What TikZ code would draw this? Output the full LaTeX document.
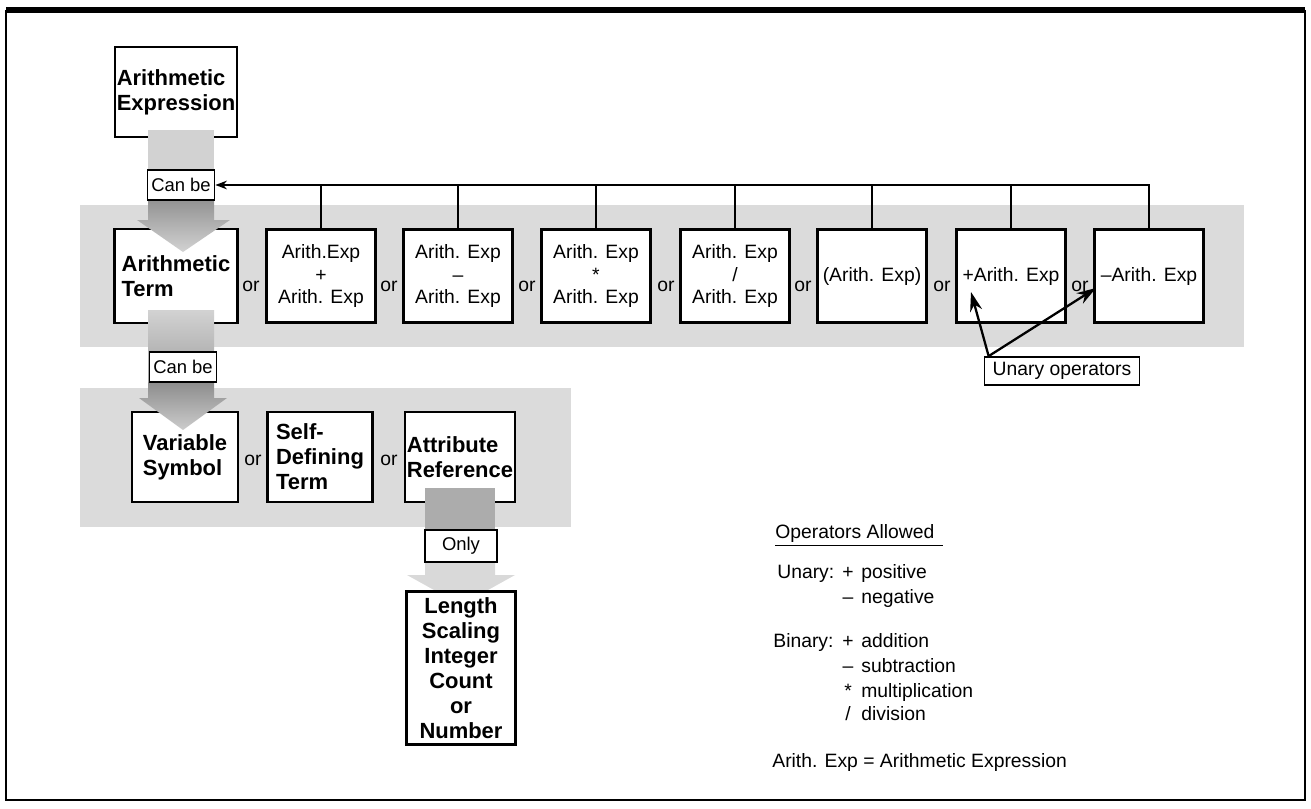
\documentclass[tikz,border=0pt]{standalone}
\usepackage{fontspec}
\setmainfont{Liberation Sans}
\usetikzlibrary{arrows.meta}

\begin{document}
\begin{tikzpicture}[x=0.02cm,y=-0.02cm,>=Stealth,
  every node/.style={font=\fontsize{11}{13}\selectfont},
  band/.style={fill=black!14},
  box/.style={draw,line width=1.3pt,fill=white,inner sep=1pt,minimum width=2.18cm,minimum height=1.86cm,align=center},
  bigbox/.style={box,font=\bfseries\fontsize{12.5}{14.2}\selectfont,align=left},
  tag/.style={draw,line width=1pt,fill=white,inner sep=1pt,minimum width=1.34cm,minimum height=0.6cm,font=\fontsize{10.5}{12}\selectfont},
  orw/.style={inner sep=0pt},
  legend/.style={anchor=base west,inner sep=0pt}]
\useasboundingbox (0,0) rectangle (1311,808);
\draw[line width=1.5pt] (6,11) rectangle (1305,800);
\draw[line width=3pt] (6,10) -- (1305,10);
\fill[band] (80,205) rectangle (1244,347);
\fill[band] (80,388) rectangle (571,527);

% top
\node[bigbox,minimum width=2.44cm,minimum height=1.8cm] (expr) at (176,92) {Arithmetic\\Expression};
\node[bigbox,minimum width=2.46cm,minimum height=1.88cm] (term) at (176,276) {Arithmetic\\Term};
\node[box] (add) at (321,276) {Arith.Exp\\+\\Arith. Exp};
\node[box] (sub) at (458,276) {Arith. Exp\\--\\Arith. Exp};
\node[box] (mul) at (596,276) {Arith. Exp\\*\\Arith. Exp};
\node[box] (dvd) at (735,276) {Arith. Exp\\/\\Arith. Exp};
\node[box] (par) at (872,276) {(Arith. Exp)};
\node[box] (pos) at (1011,276) {+Arith. Exp};
\node[box] (neg) at (1149,276) {--Arith. Exp};
\foreach \x [count=\i] in {251,389,527,666,803,942,1080}
  \node[orw] (ora\i) at (\x,286) {or};

% second row
\node[bigbox,minimum width=2.12cm,minimum height=1.8cm] (var) at (185,457) {Variable\\Symbol};
\node[bigbox,minimum width=2.1cm,minimum height=1.8cm] (self) at (320,457) {Self-\\Defining\\Term};
\node[bigbox,minimum width=2.2cm,minimum height=1.8cm] (attr) at (460,457) {Attribute\\Reference};
\node[orw] (orb1) at (253,460) {or};
\node[orw] (orb2) at (389,460) {or};

% fat arrows
\fill[gray!35] (148,130) rectangle (214,200);
\shade[top color=gray!85,bottom color=gray!35] (148,200) -- (214,200) -- (214,220) -- (230,220) -- (183,252) -- (137,220) -- (148,220) -- cycle;
\shade[top color=gray!35,bottom color=gray!75] (148,310) rectangle (214,382);
\shade[top color=gray!90,bottom color=gray!40] (148,382) -- (214,382) -- (214,398) -- (227,398) -- (183,430) -- (139,398) -- (148,398) -- cycle;
\fill[gray!65] (425,488) rectangle (495,562);
\fill[gray!30] (425,562) -- (495,562) -- (495,575) -- (515,575) -- (461,605) -- (407,575) -- (425,575) -- cycle;

\node[bigbox,align=center,minimum width=2.18cm,minimum height=3.06cm] (len) at (461,668) {Length\\Scaling\\Integer\\Count\\or\\Number};
\node[tag] (canbe1) at (181,185) {Can be};
\node[tag] (canbe2) at (183,367) {Can be};
\node[tag,minimum width=1.44cm,minimum height=0.64cm] (only) at (461,546) {Only};

% connectors
\draw[->,line width=0.8pt] (neg.north) |- (canbe1.east);
\foreach \b in {add,sub,mul,dvd,par,pos}
  \draw[line width=0.8pt] (\b.north) -- (\b.north |- canbe1.east);

\node[tag,minimum width=3.1cm,minimum height=0.56cm,font=\fontsize{11}{13}\selectfont] (unary) at (1062,371) {Unary operators};
\coordinate (ufrom) at ([xshift=0.1cm]unary.north west);
\coordinate (uplus) at (971,292);
\coordinate (uminus) at (1096,288);
\draw[-{Stealth[length=11pt,width=7pt]},line width=1.3pt] (ufrom) -- (uplus);
\draw[-{Stealth[length=11pt,width=7pt]},line width=1.3pt] (ufrom) -- (uminus);

% legend
\node[legend] (ophead) at (775,538) {Operators Allowed};
\draw[line width=0.8pt] ([yshift=-0.06cm]ophead.south west) -- ++(168,0);
\node[legend] (unlbl) at (777,578) {Unary:};
\node[legend] (binlbl) at (773,647) {Binary:};
\foreach \y/\s/\w [count=\i] in {578/+/positive,603/--/negative,647/+/addition,672/--/subtraction,697/*/multiplication,720/\slash/division}{
  \node[inner sep=0pt,anchor=base] (sym\i) at (848,\y) {\s};
  \node[legend] (word\i) at (861,\y) {\w};
}
\node[legend] (abbr) at (772,767) {Arith. Exp = Arithmetic Expression};
\end{tikzpicture}
\end{document}
